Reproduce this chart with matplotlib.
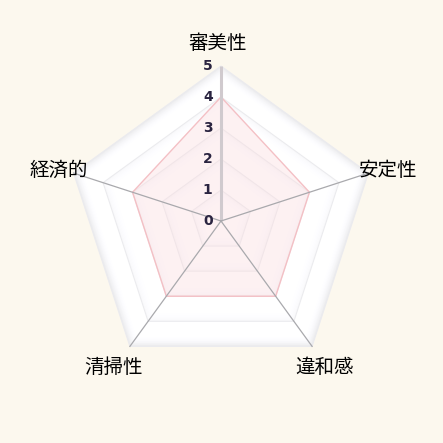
import numpy as np
import matplotlib
matplotlib.use("Agg")
import matplotlib.pyplot as plt
from matplotlib.patches import Polygon

plt.rcParams['font.family'] = ['Noto Sans CJK JP', 'DejaVu Sans']

categories = ['審美性', '安定性', '違和感', '清掃性', '経済的']
values = [4, 3, 3, 3, 3]
ticks = [0, 1, 2, 3, 4, 5]
rmax = 5

n = len(categories)
angles = np.pi / 2 - np.arange(n) * 2 * np.pi / n

def pent(r):
    return np.column_stack([r * np.cos(angles), r * np.sin(angles)])

bg = '#FCF8EE'
fig = plt.figure(figsize=(4.43, 4.43), dpi=100, facecolor=bg)
ax = fig.add_axes([0, 0, 1, 1])
ax.set_facecolor(bg)
u = 31.0
ax.set_xlim(-221 / u, 222 / u)
ax.set_ylim(-222 / u, 221 / u)
ax.set_aspect('equal')
ax.axis('off')

# gradient bands
steps = np.linspace(rmax, 0.02, 300)
for r in steps:
    frac = (r - 1e-6) % 1.0
    if frac > 0.6:
        t = (frac - 0.6) / 0.4
    else:
        t = 0.0
    strength = 0.075 if r > 4 else 0.025
    g = 1.0 - strength * t ** 2
    col = (g, g, min(1.0, g + 0.008))
    ax.add_patch(Polygon(pent(r), closed=True, facecolor=col, edgecolor='none', zorder=1))

# grid lines
for t in ticks[1:]:
    ax.add_patch(Polygon(pent(t), closed=True, facecolor='none', edgecolor='#EBEBEE', lw=0.8, zorder=2))

# data polygon
dpts = np.column_stack([np.array(values) * np.cos(angles), np.array(values) * np.sin(angles)])
ax.add_patch(Polygon(dpts, closed=True, facecolor='#FBDDE0', alpha=0.4, edgecolor='none', zorder=3))
ax.add_patch(Polygon(dpts, closed=True, facecolor='none', edgecolor='#F4C0C5', lw=1.0, zorder=4))

# spokes
for i, a in enumerate(angles):
    if i == 0:
        ax.plot([0, rmax * np.cos(a)], [0, rmax * np.sin(a)], color='#D0CACE', lw=2.2, zorder=5,
                solid_capstyle='butt')
    else:
        ax.plot([0, rmax * np.cos(a)], [0, rmax * np.sin(a)], color='#A9A9AD', lw=0.9, zorder=5)

# tick labels
for t in ticks:
    ax.annotate(str(t), xy=(0, t), xytext=(-9.5, 0), textcoords='offset points',
                ha='center', va='center', fontsize=10, color='#2a2440', fontweight='bold',
                family=['DejaVu Sans'], zorder=6)

# category labels
offsets = [(-2, 16), (14, 2), (9, -15), (-12, -15), (-11, 2)]
for lab, a, off in zip(categories, angles, offsets):
    ax.annotate(lab, xy=(rmax * np.cos(a), rmax * np.sin(a)), xytext=off,
                textcoords='offset points', ha='center', va='center',
                fontsize=14, color='#000000', zorder=7)

fig.savefig('out.png', dpi=100, facecolor=bg)
